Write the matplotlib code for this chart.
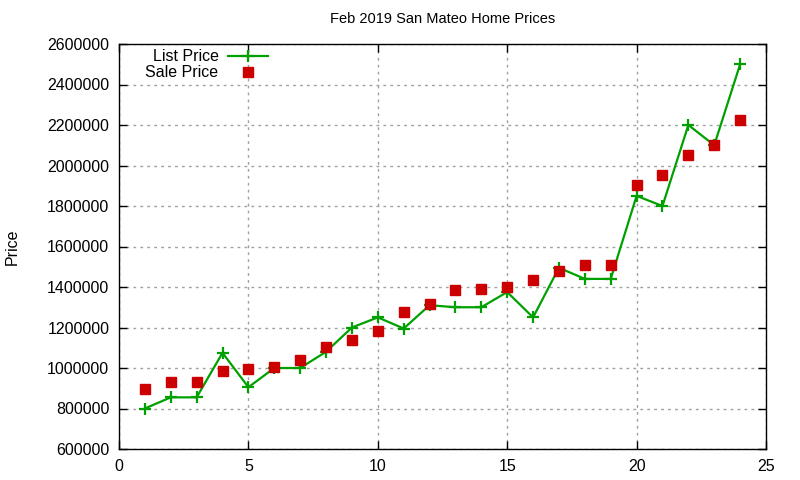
import numpy as np
import matplotlib
matplotlib.use("Agg")
import matplotlib.pyplot as plt

# Feb 2019 San Mateo listings
house = list(range(1, 25))
list_price = [800000, 855000, 855000, 1075000, 905000, 1000000, 1000000, 1080000,
              1200000, 1250000, 1195000, 1310000, 1300000, 1300000, 1375000, 1250000,
              1495000, 1440000, 1440000, 1850000, 1800000, 2200000, 2100000, 2500000]
sale_price = [897000, 930000, 930000, 983000, 997000, 1007000, 1041000, 1102000,
              1136000, 1183000, 1275000, 1315000, 1384000, 1389000, 1398000, 1437000,
              1479000, 1507000, 1507000, 1904000, 1955000, 2053000, 2100000, 2226000]

xticks = [0, 5, 10, 15, 20, 25]
yticks = list(range(600000, 2600001, 200000))

plt.rcParams['font.family'] = ['Liberation Sans', 'DejaVu Sans']
plt.rcParams['font.size'] = 9.5

fig = plt.figure(figsize=(8, 4.8), dpi=100)
ax = fig.add_axes([119/800, 1 - 449/480, (766-119)/800, (449-44)/480])

ax.plot(house, list_price, '-+', color='#00a000', lw=1.6, ms=9, mew=1.6,
        label='List Price', zorder=3)
ax.plot(house, sale_price, 's', color='#cc0000', ms=6.5, lw=0,
        label='Sale Price', zorder=4)

ax.set_xlim(0, 25)
ax.set_ylim(600000, 2600000)
ax.set_xticks(xticks)
ax.set_yticks(yticks)
ax.ticklabel_format(style='plain', useOffset=False)
ax.tick_params(direction='in', top=True, right=True, length=6, width=1,
               labelsize=11.5, pad=7, colors='black')
for s in ax.spines.values():
    s.set_linewidth(1)
ax.grid(True, color='#a0a0a0', linestyle=(0, (2, 3)), lw=1)
ax.set_axisbelow(True)

ax.set_title('Feb 2019 San Mateo Home Prices', fontsize=10.5, pad=15)
fig.text(12/800, 1 - 247/480, 'Price', rotation=90, ha='center', va='center',
         fontsize=11.5)

leg = ax.legend(loc='upper left', bbox_to_anchor=(0.031, 1.0026), markerfirst=False,
                frameon=False, fontsize=11.5, handlelength=2.5,
                labelspacing=0.05, handletextpad=0.6, borderaxespad=0)

fig.savefig('out.png', dpi=100)
